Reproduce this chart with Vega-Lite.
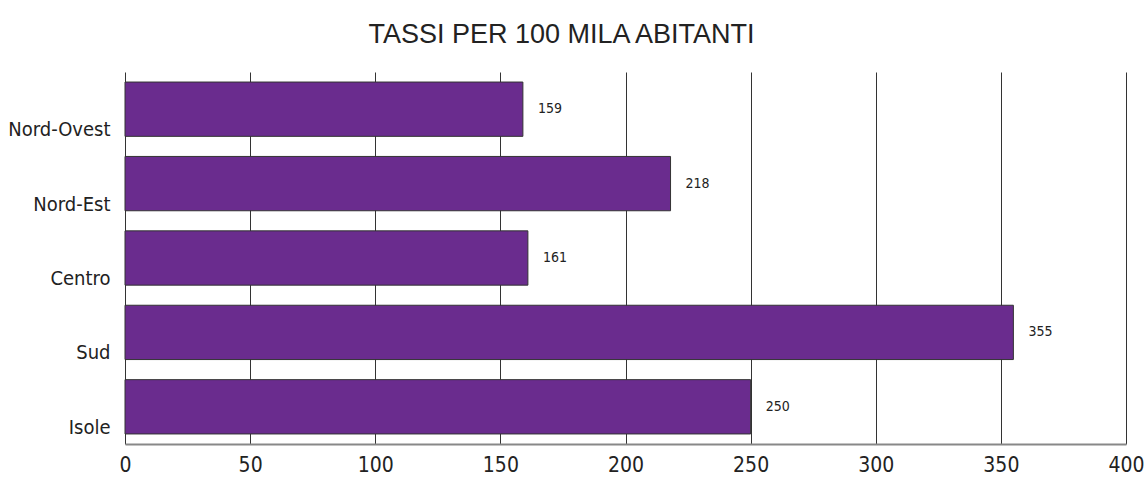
{
  "$schema": "https://vega.github.io/schema/vega-lite/v6.json",
  "autosize": "none",
  "width": 1001,
  "height": 372,
  "padding": {"left": 125, "top": 72, "right": 20, "bottom": 35},
  "background": "white",
  "title": {
    "text": "TASSI PER 100 MILA ABITANTI",
    "font": "Liberation Sans",
    "fontSize": 27,
    "fontWeight": "normal",
    "color": "#222222",
    "anchor": "middle",
    "dx": -64,
    "offset": 23
  },
  "data": {
    "values": [
      {"area": "Nord-Ovest", "tasso": 159},
      {"area": "Nord-Est", "tasso": 218},
      {"area": "Centro", "tasso": 161},
      {"area": "Sud", "tasso": 355},
      {"area": "Isole", "tasso": 250}
    ]
  },
  "config": {
    "view": {"stroke": null},
    "axis": {"labelFont": "DejaVu Sans Condensed", "labelColor": "#222222"}
  },
  "encoding": {
    "y": {
      "field": "area",
      "type": "nominal",
      "sort": null,
      "scale": {"paddingInner": 0.27, "paddingOuter": 0.135},
      "axis": {
        "title": null,
        "domain": false,
        "ticks": false,
        "labelFontSize": 20,
        "labelPadding": 15,
        "labelOffset": 21
      }
    },
    "x": {
      "field": "tasso",
      "type": "quantitative",
      "scale": {"domain": [0, 400], "nice": false},
      "axis": {
        "title": null,
        "values": [0, 50, 100, 150, 200, 250, 300, 350, 400],
        "grid": true,
        "gridColor": "#333333",
        "gridWidth": 1,
        "gridOpacity": 1,
        "domain": true,
        "domainColor": "#888888",
        "domainWidth": 2,
        "ticks": false,
        "labelFlush": false,
        "labelFontSize": 21,
        "labelPadding": 10
      }
    }
  },
  "layer": [
    {
      "mark": {"type": "bar", "color": "#6A2C8E", "stroke": "#333333", "strokeWidth": 1}
    },
    {
      "mark": {
        "type": "text",
        "align": "left",
        "baseline": "middle",
        "dx": 15,
        "font": "DejaVu Sans Condensed",
        "fontSize": 14,
        "color": "#222222"
      },
      "encoding": {"text": {"field": "tasso", "type": "quantitative"}}
    }
  ]
}
